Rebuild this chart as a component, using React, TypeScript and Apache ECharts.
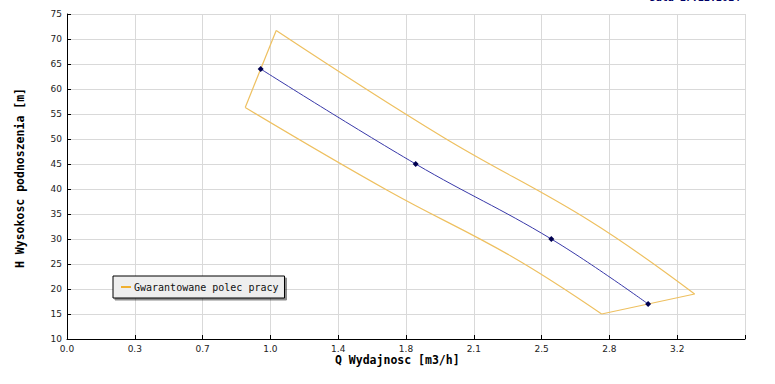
import React, { useEffect, useRef } from "react";
import * as echarts from "echarts";

const xTickLabels = ["0.0", "0.3", "0.7", "1.0", "1.4", "1.8", "2.1", "2.5", "2.8", "3.2"];
const curveQ = [1.0, 1.8, 2.5, 3.0];
const curveH = [64, 45, 30, 17];
// tolerance band outline: upper edge (4 pts) then lower edge (4 pts)
const bandQ = [1.08, 1.94, 2.7, 3.24, 2.76, 2.3, 1.66, 0.92];
const bandH = [71.7, 50.4, 33.6, 19.0, 15.0, 26.4, 39.6, 56.3];
const bandName = "Gwarantowane polec pracy";
const xTitle = "Q Wydajnosc [m3/h]";
const yTitle = "H Wysokosc podnoszenia [m]";
const dateText = "Data 17.12.2014";

export default function App() {
  const ref = useRef<HTMLDivElement>(null);
  useEffect(() => {
    document.body.style.margin = "0";
    const chart = echarts.init(ref.current!, null, { renderer: "svg" });
    const X_INT = 0.35;
    const pts = bandQ.map((q, i) => [q, bandH[i]]);
    const bandStyle = { color: "#eec060", width: 1.2 };
    const bandSeries = (data: number[][], smooth: number | boolean) => ({
      name: bandName,
      type: "line",
      data,
      showSymbol: false,
      symbol: "none",
      smooth,
      lineStyle: bandStyle,
      itemStyle: { color: "#f0b030" },
      z: 2,
    });
    chart.setOption({
      animation: false,
      backgroundColor: "#ffffff",
      grid: { left: 67, right: 30, top: 14, bottom: 45 },
      legend: {
        show: true,
        data: [bandName],
        left: 113,
        top: 276,
        orient: "horizontal",
        backgroundColor: "#eeeeee",
        borderColor: "#000000",
        borderWidth: 1,
        borderRadius: 0,
        padding: [6, 6, 6, 8],
        shadowColor: "rgba(0,0,0,0.45)",
        shadowOffsetX: 2,
        shadowOffsetY: 2,
        shadowBlur: 0,
        icon: "rect",
        itemWidth: 10,
        itemHeight: 2,
        textStyle: { fontFamily: "DejaVu Sans Mono", fontSize: 10, color: "#111", padding: [0, 0, 0, -2] },
      },
      graphic: [
        {
          type: "text",
          left: 398 - 63,
          top: 354,
          style: { text: xTitle, fontFamily: "DejaVu Sans Mono", fontWeight: "bold", fontSize: 11.5, fill: "#000" },
        },
        {
          type: "text",
          x: 14,
          y: 268,
          rotation: Math.PI / 2,
          style: { text: yTitle, fontFamily: "DejaVu Sans Mono", fontWeight: "bold", fontSize: 11.5, fill: "#000", textAlign: "left", textVerticalAlign: "top" },
        },
        {
          type: "text",
          right: 35,
          top: -8,
          style: { text: dateText, fontFamily: "DejaVu Sans Mono", fontWeight: "bold", fontSize: 10, fill: "#000066" },
        },
      ],
      xAxis: {
        type: "value",
        min: 0,
        max: 3.5,
        interval: X_INT,
        axisLine: { show: true, lineStyle: { color: "#000", width: 1 } },
        axisTick: { show: true, inside: true, length: 4, lineStyle: { color: "#000" } },
        axisLabel: {
          margin: 5,
          fontFamily: "DejaVu Sans",
          fontSize: 9,
          color: "#222",
          formatter: (v: number) => xTickLabels[Math.round(v / X_INT)] ?? "",
        },
        splitLine: { show: true, lineStyle: { color: "#d9d9d9", width: 1 } },
      },
      yAxis: {
        type: "value",
        min: 10,
        max: 75,
        interval: 5,
        axisLine: { show: true, lineStyle: { color: "#000", width: 1 } },
        axisTick: { show: true, inside: true, length: 4, lineStyle: { color: "#000" } },
        axisLabel: { margin: 5, fontFamily: "DejaVu Sans", fontSize: 9, color: "#222" },
        splitLine: { show: true, lineStyle: { color: "#d9d9d9", width: 1 } },
      },
      series: [
        bandSeries(pts.slice(0, 4), 0.4),
        bandSeries([pts[3], pts[4]], false),
        bandSeries(pts.slice(4, 8), 0.4),
        bandSeries([pts[7], pts[0]], false),
        {
          name: "curve",
          type: "line",
          data: curveQ.map((q, i) => [q, curveH[i]]),
          symbol: "diamond",
          symbolSize: 6,
          smooth: 0.4,
          itemStyle: { color: "#000050" },
          lineStyle: { color: "#3838a8", width: 1 },
          z: 3,
        },
      ],
    });
    return () => chart.dispose();
  }, []);
  return <div ref={ref} style={{ position: "fixed", left: 0, top: 0, width: 775, height: 384 }} />;
}
